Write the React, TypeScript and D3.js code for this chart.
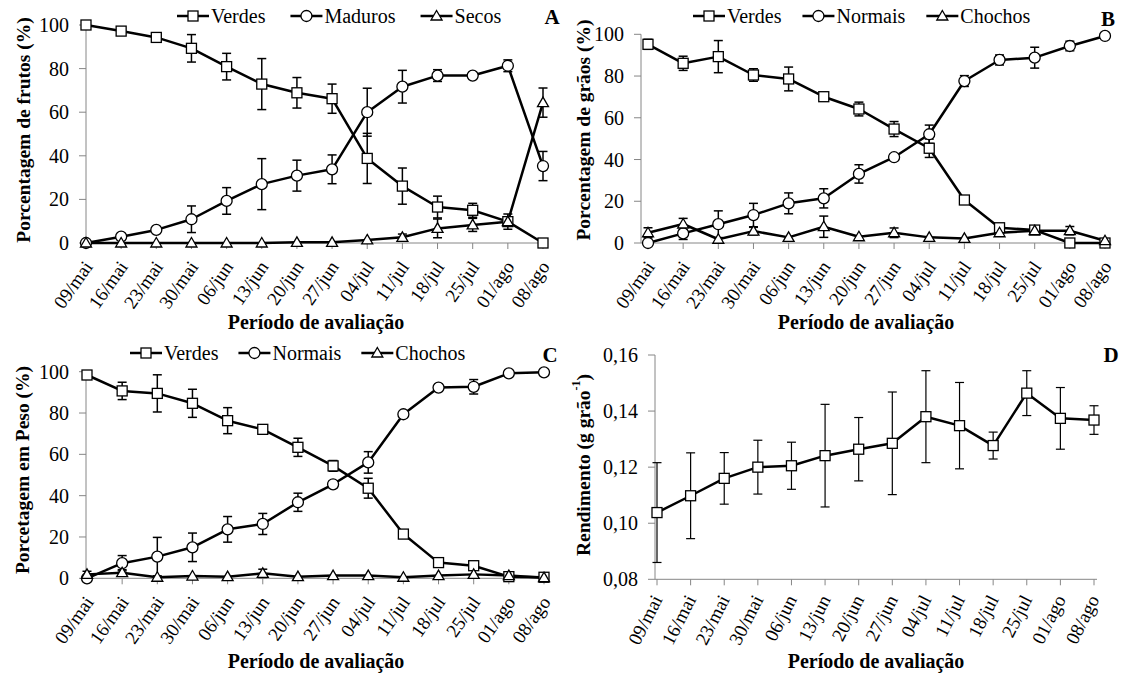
import { useEffect, useRef } from "react";
import * as d3 from "d3";

const dates = ["09/mai", "16/mai", "23/mai", "30/mai", "06/jun", "13/jun", "20/jun", "27/jun", "04/jul", "11/jul", "18/jul", "25/jul", "01/ago", "08/ago"];

// A - frutos
const frutosVerdes = [100, 97.2, 94.3, 89.3, 80.9, 72.9, 68.9, 66.2, 38.8, 26.1, 16.5, 15.0, 9.8, 0];
const frutosVerdesErr = [0, 0, 0, 6.3, 6.1, 11.7, 7.0, 6.7, 11.5, 8.3, 5.0, 3.2, 0, 0];
const frutosMaduros = [0, 2.9, 6.0, 10.9, 19.3, 27.0, 30.9, 33.8, 60.0, 71.7, 76.8, 76.8, 81.3, 35.3];
const frutosMadurosErr = [0, 0, 0, 6.1, 6.1, 11.7, 7.1, 6.6, 11.0, 7.5, 2.7, 0, 2.7, 6.7];
const frutosSecos = [0, 0, 0, 0, 0, 0, 0.3, 0.3, 1.4, 2.6, 6.7, 8.3, 9.8, 64.4];
const frutosSecosErr = [0, 0, 0, 0, 0, 0, 0, 0, 0, 1.5, 4.3, 3.0, 3.5, 6.7];

// B - grãos
const graosVerdes = [95.2, 86.1, 89.3, 80.5, 78.6, 70.1, 64.2, 54.6, 45.4, 20.6, 7.3, 6.2, 0, 0];
const graosVerdesErr = [2.4, 3.4, 7.7, 3.0, 5.7, 0, 3.3, 3.6, 4.4, 1.5, 1.2, 1.0, 0, 0];
const graosNormais = [0, 4.6, 9.0, 13.4, 19.0, 21.4, 33.1, 41.1, 52.1, 77.6, 87.7, 88.8, 94.4, 99.2];
const graosNormaisErr = [0, 2.9, 6.4, 5.6, 5.0, 4.6, 4.4, 1.5, 4.4, 2.6, 2.4, 5.0, 2.3, 0];
const graosChochos = [4.9, 9.1, 1.8, 5.7, 2.7, 7.8, 3.0, 4.9, 2.7, 2.2, 4.9, 5.9, 5.9, 1.1];
const graosChochosErr = [2.4, 2.7, 0, 1.8, 0, 5.1, 0, 2.3, 0, 0, 0, 0, 2.0, 0];

// C - peso
const pesoVerdes = [98.4, 90.7, 89.5, 84.7, 76.3, 72.1, 63.4, 54.4, 43.6, 21.4, 7.6, 6.1, 0.8, 0.5];
const pesoVerdesErr = [0, 4.2, 9.0, 6.8, 6.3, 2.1, 4.4, 2.6, 4.8, 0, 0, 2.0, 0, 0];
const pesoNormais = [0, 7.3, 10.5, 15.0, 23.7, 26.3, 36.8, 45.5, 56.1, 79.4, 92.3, 92.7, 99.2, 99.7];
const pesoNormaisErr = [0, 3.7, 9.3, 6.9, 6.2, 5.1, 4.4, 1.6, 5.2, 1.5, 1.2, 3.5, 0, 0];
const pesoChochos = [1.9, 2.7, 0.5, 1.1, 0.8, 2.4, 0.8, 1.3, 1.3, 0.5, 1.3, 1.9, 1.3, 0.3];
const pesoChochosErr = [1.5, 1.5, 0, 0, 0, 2.0, 0, 0, 0, 0, 0, 0, 0, 0];

// D - rendimento
const rendimento = [0.1038, 0.1098, 0.116, 0.12, 0.1205, 0.1241, 0.1264, 0.1285, 0.138, 0.1348, 0.1277, 0.1464, 0.1374, 0.1368];
const rendimentoErr = [0.0178, 0.0153, 0.0092, 0.0096, 0.0084, 0.0183, 0.0113, 0.0183, 0.0164, 0.0154, 0.0048, 0.008, 0.011, 0.0051];

const pctTicks = [0, 20, 40, 60, 80, 100];
const rendTicks = [0.08, 0.1, 0.12, 0.14, 0.16];

const FONT = "'Liberation Serif', 'Times New Roman', serif";
const AXIS_COLOR = "#868686";

type Marker = "square" | "circle" | "triangle";
type Series = { name: string; values: number[]; errors: number[]; marker: Marker };

const panels = [
  {
    letter: "A",
    ylabel: "Porcentagem de frutos (%)",
    series: [
      { name: "Verdes", values: frutosVerdes, errors: frutosVerdesErr, marker: "square" },
      { name: "Maduros", values: frutosMaduros, errors: frutosMadurosErr, marker: "circle" },
      { name: "Secos", values: frutosSecos, errors: frutosSecosErr, marker: "triangle" },
    ] as Series[],
    ticks: pctTicks,
    x0: 86, x1: 543, axisX: 86, axisEnd: 548,
    y0: 243, y1: 25,
    angle: -55, labelDx: 2, labelDy: 20,
    ylabelX: 23, ylabelY: 130,
    titleX: 316, titleY: 329,
    legendX: 177, legendY: 16, legendGap: 25,
    letterX: 552, letterY: 24,
  },
  {
    letter: "B",
    ylabel: "Porcentagem de grãos (%)",
    series: [
      { name: "Verdes", values: graosVerdes, errors: graosVerdesErr, marker: "square" },
      { name: "Normais", values: graosNormais, errors: graosNormaisErr, marker: "circle" },
      { name: "Chochos", values: graosChochos, errors: graosChochosErr, marker: "triangle" },
    ] as Series[],
    ticks: pctTicks,
    x0: 648, x1: 1105, axisX: 641, axisEnd: 1110,
    y0: 243, y1: 34.3,
    angle: -55, labelDx: 2, labelDy: 20,
    ylabelX: 583, ylabelY: 130,
    titleX: 866, titleY: 329,
    legendX: 693, legendY: 16, legendGap: 21,
    letterX: 1108, letterY: 26,
  },
  {
    letter: "C",
    ylabel: "Porcetagem em Peso (%)",
    series: [
      { name: "Verdes", values: pesoVerdes, errors: pesoVerdesErr, marker: "square" },
      { name: "Normais", values: pesoNormais, errors: pesoNormaisErr, marker: "circle" },
      { name: "Chochos", values: pesoChochos, errors: pesoChochosErr, marker: "triangle" },
    ] as Series[],
    ticks: pctTicks,
    x0: 87, x1: 544, axisX: 86, axisEnd: 548,
    y0: 578.3, y1: 371.7,
    angle: -55, labelDx: 2, labelDy: 20,
    ylabelX: 22, ylabelY: 470,
    titleX: 316, titleY: 668,
    legendX: 130, legendY: 353, legendGap: 20,
    letterX: 550, letterY: 362,
  },
  {
    letter: "D",
    ylabel: "Rendimento (g grão",
    series: [
      { name: "Rendimento", values: rendimento, errors: rendimentoErr, marker: "square" },
    ] as Series[],
    ticks: rendTicks,
    x0: 657, x1: 1094, axisX: 655, axisEnd: 1097,
    y0: 579.3, y1: 355,
    angle: -63, labelDx: 0, labelDy: 17,
    ylabelX: 583, ylabelY: 465,
    titleX: 876, titleY: 668,
    legendX: 0, legendY: 0, legendGap: 0,
    letterX: 1111, letterY: 362,
  },
];

function drawMarker(g: any, type: Marker, x: number, y: number) {
  if (type === "square") {
    g.append("rect").attr("x", x - 5).attr("y", y - 5).attr("width", 10).attr("height", 10)
      .attr("fill", "#fff").attr("stroke", "#000").attr("stroke-width", 1.3);
  } else if (type === "circle") {
    g.append("circle").attr("cx", x).attr("cy", y).attr("r", 5.5)
      .attr("fill", "#fff").attr("stroke", "#000").attr("stroke-width", 1.3);
  } else {
    g.append("path").attr("d", `M${x},${y - 5.5}L${x + 5.5},${y + 4}L${x - 5.5},${y + 4}Z`)
      .attr("fill", "#fff").attr("stroke", "#000").attr("stroke-width", 1.3);
  }
}

export default function App() {
  const svgRef = useRef<SVGSVGElement>(null);

  useEffect(() => {
    const svg = d3.select(svgRef.current);
    svg.selectAll("*").remove();

    panels.forEach((p) => {
      const isD = p.letter === "D";
      const g = svg.append("g");
      const x = d3.scalePoint<string>().domain(dates).range([p.x0, p.x1]);
      const y = d3.scaleLinear()
        .domain([p.ticks[0], p.ticks[p.ticks.length - 1]])
        .range([p.y0, p.y1]);
      const fmt = isD ? (v: number) => d3.format(".2f")(v).replace(".", ",") : d3.format("d");

      // axes
      g.append("line").attr("x1", p.axisX).attr("x2", p.axisX).attr("y1", y(p.ticks[p.ticks.length - 1])).attr("y2", p.y0)
        .attr("stroke", AXIS_COLOR).attr("stroke-width", 1);
      g.append("line").attr("x1", p.axisX).attr("x2", p.axisEnd).attr("y1", p.y0).attr("y2", p.y0)
        .attr("stroke", AXIS_COLOR).attr("stroke-width", 1);

      p.ticks.forEach((t) => {
        g.append("line").attr("x1", p.axisX - 7).attr("x2", p.axisX).attr("y1", y(t)).attr("y2", y(t))
          .attr("stroke", AXIS_COLOR);
        g.append("text").attr("x", p.axisX - 17).attr("y", y(t)).attr("dy", "0.35em")
          .attr("text-anchor", "end").attr("font-family", FONT).attr("font-size", 20)
          .text(fmt(t));
      });

      dates.forEach((d) => {
        const xx = x(d)!;
        g.append("line").attr("x1", xx).attr("x2", xx).attr("y1", p.y0).attr("y2", p.y0 + 6)
          .attr("stroke", AXIS_COLOR);
        g.append("text")
          .attr("transform", `translate(${xx + p.labelDx},${p.y0 + p.labelDy}) rotate(${p.angle})`)
          .attr("dy", "0.35em").attr("text-anchor", "end")
          .attr("font-family", FONT).attr("font-size", 19).text(d);
      });

      // axis titles
      g.append("text").attr("x", p.titleX).attr("y", p.titleY).attr("text-anchor", "middle")
        .attr("font-family", FONT).attr("font-size", 20).attr("font-weight", "bold")
        .text("Período de avaliação");

      const yl = g.append("text")
        .attr("transform", `translate(${p.ylabelX},${p.ylabelY}) rotate(-90)`)
        .attr("text-anchor", "middle").attr("dominant-baseline", "central")
        .attr("font-family", FONT).attr("font-size", 19.5).attr("font-weight", "bold");
      yl.append("tspan").text(p.ylabel);
      if (isD) {
        yl.append("tspan").attr("font-size", 12).attr("dy", -7).text("-1");
        yl.append("tspan").attr("dy", 7).text(")");
      }

      // panel letter
      g.append("text").attr("x", p.letterX).attr("y", p.letterY).attr("text-anchor", "middle")
        .attr("font-family", FONT).attr("font-size", 21).attr("font-weight", "bold").text(p.letter);

      // series
      const line = d3.line<number>().x((_, i) => x(dates[i])!).y((v) => y(v));
      p.series.forEach((s) => {
        const sg = g.append("g");
        sg.append("path").attr("d", line(s.values)).attr("fill", "none")
          .attr("stroke", "#000").attr("stroke-width", 2.5).attr("stroke-linejoin", "round");
        s.values.forEach((v, i) => {
          const e = s.errors[i];
          if (!e) return;
          const xx = x(dates[i])!;
          const eg = sg.append("g").attr("stroke", "#000").attr("stroke-width", isD ? 1.2 : 1.5);
          eg.append("line").attr("x1", xx).attr("x2", xx).attr("y1", y(v - e)).attr("y2", y(v + e));
          eg.append("line").attr("x1", xx - 4.5).attr("x2", xx + 4.5).attr("y1", y(v - e)).attr("y2", y(v - e));
          eg.append("line").attr("x1", xx - 4.5).attr("x2", xx + 4.5).attr("y1", y(v + e)).attr("y2", y(v + e));
        });
      });
      p.series.forEach((s) => {
        const mg = g.append("g");
        s.values.forEach((v, i) => drawMarker(mg, s.marker, x(dates[i])!, y(v)));
      });

      // legend
      if (!isD) {
        let lx = p.legendX;
        const ly = p.legendY;
        p.series.forEach((s) => {
          g.append("line").attr("x1", lx).attr("x2", lx + 32).attr("y1", ly).attr("y2", ly)
            .attr("stroke", "#000").attr("stroke-width", 2.5);
          drawMarker(g, s.marker, lx + 16, ly);
          const t = g.append("text").attr("x", lx + 34).attr("y", ly).attr("dy", "0.35em")
            .attr("font-family", FONT).attr("font-size", 20).text(s.name);
          const w = (t.node() as SVGTextElement).getComputedTextLength();
          lx = lx + 34 + w + p.legendGap;
        });
      }
    });
  }, []);

  return (
    <svg
      ref={svgRef}
      width={1126}
      height={675}
      style={{ position: "absolute", left: 0, top: 0, background: "#fff" }}
    />
  );
}
